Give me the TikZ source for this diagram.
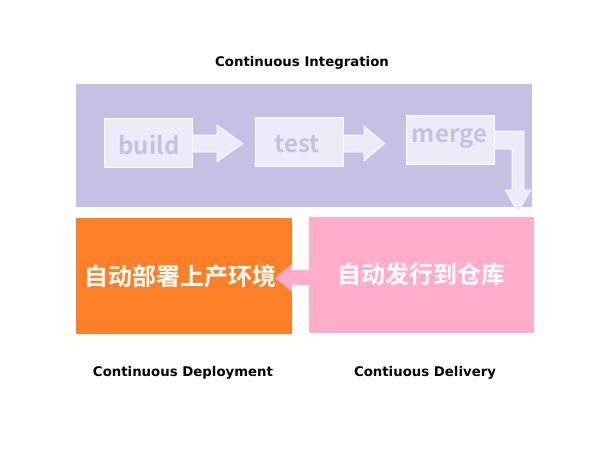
\documentclass[tikz,border=0pt]{standalone}
\usepackage{fontspec}
\setmainfont{Noto Sans CJK SC}[BoldFont={* Bold}]
\newfontfamily\capfont{DejaVu Sans}[BoldFont={* Bold}]
\definecolor{ciback}{HTML}{C7C0E5}
\definecolor{boxfill}{HTML}{EEEBF8}
\definecolor{boxtext}{HTML}{C7C0E5}
\definecolor{deploy}{HTML}{FD8028}
\definecolor{delivery}{HTML}{FFADCB}
\tikzset{
  stagebox/.style={draw=white, line width=0.8pt, fill=boxfill, minimum width=88pt, minimum height=49pt,
    inner sep=0pt},
  stagetext/.style={text=boxtext, font=\bfseries\fontsize{24}{28}\selectfont},
  bigbox/.style={fill=#1, inner sep=0pt},
  bigtext/.style={text=white, font=\bfseries\fontsize{24}{28}\selectfont},
  blockarrow/.style={fill=boxfill, draw=white, line width=0.6pt},
  caption/.style={font=\capfont\bfseries\fontsize{13.3}{16}\selectfont, text=black},
}
\begin{document}
\begin{tikzpicture}[x=1pt,y=-1pt]
\useasboundingbox (0,0) rectangle (604,453);
\fill[white] (0,0) rectangle (604,453);
% CI background
\fill[ciback] (76,84) rectangle (532,207);
\node[caption] (citext) at (302,62.5) {Continuous Integration};
% stage boxes
\node[stagebox] (build) at (148,142.5) {};
\node[stagetext] (buildt) at (149,145) {build};
\node[stagebox] (test) at (299,141.5) {};
\node[stagetext] (testt) at (297,144) {test};
\node[stagebox] (merge) at (450,140) {};
\node[stagetext] (merget) at (449.5,139) {merge};
% arrows between stages
\filldraw[blockarrow] (build.east |- 0,135) -- (217,135) -- (217,125) -- (243,143.5) -- (217,162) -- (217,152) -- (build.east |- 0,152) -- cycle;
\filldraw[blockarrow] (test.east |- 0,135) -- (364,135) -- (364,126) -- (385,143.5) -- (364,161) -- (364,152) -- (test.east |- 0,152) -- cycle;
% elbow arrow from merge
\filldraw[blockarrow] (merge.east |- 0,131) -- (524,131) -- (524,190) -- (531,190) -- (518,212) -- (505,190) -- (512,190) -- (512,149) -- (merge.east |- 0,149) -- cycle;
% lower boxes
\node[bigbox=deploy, minimum width=216pt, minimum height=116pt] (deploybox) at (184,276) {};
\node[bigtext] (deployt) at (180,276) {自动部署上产环境};
\node[bigbox=delivery, minimum width=225pt, minimum height=116pt] (deliverybox) at (421.5,275) {};
\node[bigtext] (deliveryt) at (421.5,274) {自动发行到仓库};
% pink arrow from delivery to deploy
\fill[delivery] (deliverybox.west |- 0,270) -- (292,270) -- (292,264) -- (275,278) -- (292,292) -- (292,285) -- (deliverybox.west |- 0,285) -- cycle;
\node[caption] (cdeploy) at (183,372.5) {Continuous Deployment};
\node[caption] (cdelivery) at (425,372.5) {Contiuous Delivery};
\end{tikzpicture}
\end{document}
